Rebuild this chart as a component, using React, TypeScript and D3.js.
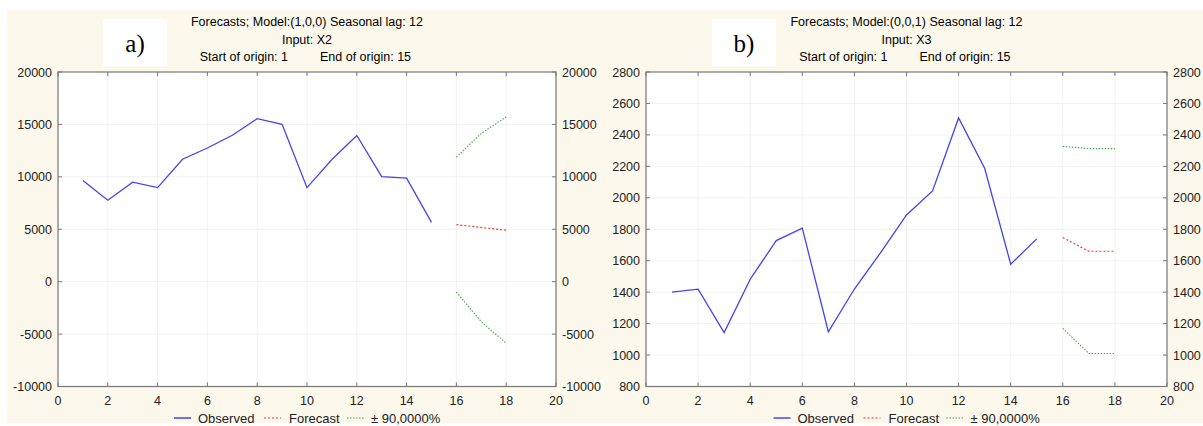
import React from "react";
import * as d3 from "d3";

const xTicks = [0, 2, 4, 6, 8, 10, 12, 14, 16, 18, 20];
const obsX = [1, 2, 3, 4, 5, 6, 7, 8, 9, 10, 11, 12, 13, 14, 15];
const fcX = [16, 17, 18];

const aObserved = [9650, 7770, 9490, 8970, 11680, 12750, 13970, 15550, 15010, 8970, 11650, 13940, 10020, 9870, 5650];
const aForecast = [5440, 5170, 4910];
const aUpper = [11870, 14150, 15710];
const aLower = [-1000, -3820, -5880];
const aYTicks = [-10000, -5000, 0, 5000, 10000, 15000, 20000];

const bObserved = [1400, 1419, 1143, 1482, 1728, 1807, 1148, 1420, 1650, 1891, 2044, 2508, 2188, 1578, 1739];
const bForecast = [1747, 1660, 1660];
const bUpper = [2327, 2313, 2313];
const bLower = [1170, 1010, 1010];
const bYTicks = [800, 1000, 1200, 1400, 1600, 1800, 2000, 2200, 2400, 2600, 2800];

const FONT = "'Liberation Sans', Arial, sans-serif";

type PanelProps = {
  left: number; right: number; top: number; bottom: number;
  yTicks: number[]; observed: number[]; forecast: number[]; upper: number[]; lower: number[];
  titles: string[]; label: string; boxX: number;
};

function Panel(p: PanelProps) {
  const x = d3.scaleLinear().domain([0, 20]).range([p.left, p.right]);
  const y = d3.scaleLinear().domain([p.yTicks[0], p.yTicks[p.yTicks.length - 1]]).range([p.bottom, p.top]);
  const line = d3.line<[number, number]>().x(d => x(d[0])).y(d => y(d[1]));
  const obs = line(obsX.map((v, i) => [v, p.observed[i]]))!;
  const fc = line(fcX.map((v, i) => [v, p.forecast[i]]))!;
  const up = line(fcX.map((v, i) => [v, p.upper[i]]))!;
  const lo = line(fcX.map((v, i) => [v, p.lower[i]]))!;
  const cx = (p.left + p.right) / 2;
  const T = 4;
  return (
    <g fontFamily={FONT}>
      <rect x={p.boxX} y={19} width={64} height={47} fill="#fff" />
      <text x={p.boxX + 32} y={52} textAnchor="middle" fontFamily="'Liberation Serif', 'Times New Roman', serif" fontSize={25} fill="#000">{p.label}</text>
      <text x={cx} y={26} textAnchor="middle" fontSize={12.5} fill="#000">{p.titles[0]}</text>
      <text x={cx} y={44} textAnchor="middle" fontSize={12.5} fill="#000">{p.titles[1]}</text>
      <text x={cx - 19} y={61} textAnchor="end" fontSize={12.5} fill="#000">{p.titles[2]}</text>
      <text x={cx + 13} y={61} textAnchor="start" fontSize={12.5} fill="#000">{p.titles[3]}</text>
      <rect x={p.left} y={p.top} width={p.right - p.left} height={p.bottom - p.top} fill="#fff" />
      {xTicks.slice(1, -1).map(t => (
        <line key={"gx" + t} x1={x(t)} x2={x(t)} y1={p.top} y2={p.bottom} stroke="#efefef" strokeWidth={0.8} />
      ))}
      {p.yTicks.slice(1, -1).map(t => (
        <line key={"gy" + t} x1={p.left} x2={p.right} y1={y(t)} y2={y(t)} stroke="#efefef" strokeWidth={0.8} />
      ))}
      <path d={obs} fill="none" stroke="#4444ee" strokeWidth={1.3} />
      <path d={fc} fill="none" stroke="#ff3333" strokeWidth={1.2} strokeDasharray="2,2" />
      <path d={up} fill="none" stroke="#44aa44" strokeWidth={1.1} strokeDasharray="1.5,1.5" />
      <path d={lo} fill="none" stroke="#44aa44" strokeWidth={1.1} strokeDasharray="1.5,1.5" />
      <rect x={p.left} y={p.top} width={p.right - p.left} height={p.bottom - p.top} fill="none" stroke="#777" strokeWidth={1.2} />
      {xTicks.map(t => (
        <g key={"tx" + t}>
          <line x1={x(t)} x2={x(t)} y1={p.bottom} y2={p.bottom - T} stroke="#777" />
          <line x1={x(t)} x2={x(t)} y1={p.top} y2={p.top + T} stroke="#777" />
          <text x={x(t)} y={405} textAnchor="middle" fontSize={12.5} fill="#222">{t}</text>
        </g>
      ))}
      {p.yTicks.map(t => (
        <g key={"ty" + t}>
          <line x1={p.left} x2={p.left + T} y1={y(t)} y2={y(t)} stroke="#777" />
          <line x1={p.right} x2={p.right - T} y1={y(t)} y2={y(t)} stroke="#777" />
          <text x={p.left - 6} y={y(t) + 4.5} textAnchor="end" fontSize={12.5} fill="#222">{t}</text>
          <text x={p.right + 6} y={y(t) + 4.5} textAnchor="start" fontSize={12.5} fill="#222">{t}</text>
        </g>
      ))}
      <g transform={`translate(${cx - 133},0)`} fontSize={13}>
        <line x1={0} x2={17} y1={418} y2={418} stroke="#4444ee" strokeWidth={1.5} />
        <text x={24} y={422.5} fill="#222">Observed</text>
        <line x1={90} x2={107} y1={418} y2={418} stroke="#ff3333" strokeWidth={1.2} strokeDasharray="2,2" />
        <text x={115} y={422.5} fill="#222">Forecast</text>
        <line x1={173} x2={191} y1={418} y2={418} stroke="#44aa44" strokeWidth={1.1} strokeDasharray="1.5,1.5" />
        <text x={197} y={422.5} fill="#222">± 90,0000%</text>
      </g>
    </g>
  );
}

export default function App() {
  return (
    <svg width={1203} height={426} style={{ position: "absolute", left: 0, top: 0, display: "block" }}>
      <rect x={0} y={0} width={1203} height={426} fill="#fff" />
      <rect x={7} y={10} width={1196} height={413} fill="#fdf8ec" />
      <Panel left={58} right={556} top={72} bottom={386.5}
        yTicks={aYTicks} observed={aObserved} forecast={aForecast} upper={aUpper} lower={aLower}
        titles={["Forecasts; Model:(1,0,0) Seasonal lag: 12", "Input: X2", "Start of origin: 1", "End of origin: 15"]}
        label="a)" boxX={103} />
      <Panel left={646} right={1167} top={72} bottom={386.5}
        yTicks={bYTicks} observed={bObserved} forecast={bForecast} upper={bUpper} lower={bLower}
        titles={["Forecasts; Model:(0,0,1) Seasonal lag: 12", "Input: X3", "Start of origin: 1", "End of origin: 15"]}
        label="b)" boxX={712} />
    </svg>
  );
}
